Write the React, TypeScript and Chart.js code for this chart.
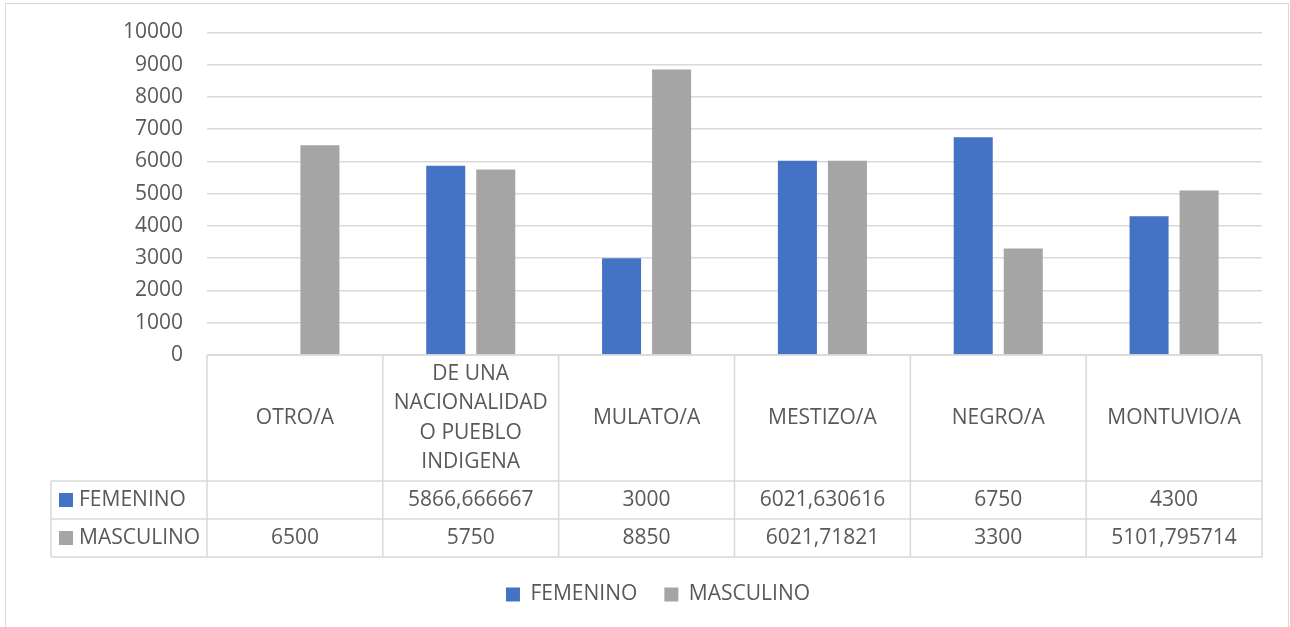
import React, { useEffect, useRef } from "react";
import { Chart, registerables } from "chart.js";

Chart.register(...registerables);

const categories: string[][] = [
  ["OTRO/A"],
  ["DE UNA", "NACIONALIDAD", "O PUEBLO", "INDIGENA"],
  ["MULATO/A"],
  ["MESTIZO/A"],
  ["NEGRO/A"],
  ["MONTUVIO/A"],
];
const seriesNames = ["FEMENINO", "MASCULINO"];
const femenino: (number | null)[] = [null, 5866.666667, 3000, 6021.630616, 6750, 4300];
const masculino: (number | null)[] = [6500, 5750, 8850, 6021.71821, 3300, 5101.795714];
const seriesColors = ["#4472C4", "#A5A5A5"];
const yMin = 0;
const yMax = 10000;
const yStep = 1000;

const FONT = "'Open Sans', 'Noto Sans', sans-serif";
const TEXT = "#595959";
const LINE = "#D9D9D9";
const FS = 21;

const fmt = (v: number | null) => (v == null ? "" : String(v).replace(".", ","));

const tablePlugin = {
  id: "dataTable",
  beforeDraw(chart: any) {
    const ctx = chart.ctx;
    ctx.save();
    ctx.strokeStyle = LINE;
    ctx.lineWidth = 1;
    ctx.strokeRect(5.5, 3.5, 1283, 700);
    ctx.restore();
  },
  afterDraw(chart: any) {
    const { ctx, chartArea } = chart;
    const xs = chart.scales.x;
    const n = chart.data.labels.length;
    const top = chartArea.bottom;
    const headerH = 126;
    const rowH = 38;
    const legendLeft = 51;
    const colW = (chartArea.right - chartArea.left) / n;
    const bottom = top + headerH + rowH * chart.data.datasets.length;
    ctx.save();
    ctx.strokeStyle = LINE;
    ctx.lineWidth = 1.5;
    const line = (x1: number, y1: number, x2: number, y2: number) => {
      ctx.beginPath();
      ctx.moveTo(x1, y1);
      ctx.lineTo(x2, y2);
      ctx.stroke();
    };
    line(chartArea.left, top, chartArea.right, top);
    for (let r = 0; r <= chart.data.datasets.length; r++) {
      const y = top + headerH + r * rowH;
      line(legendLeft, y, chartArea.right, y);
    }
    line(legendLeft, top + headerH, legendLeft, bottom);
    for (let i = 0; i < n; i++) {
      const xl = xs.getPixelForValue(i) - colW / 2;
      line(xl, top, xl, bottom);
    }
    line(xs.getPixelForValue(n - 1) + colW / 2, top, xs.getPixelForValue(n - 1) + colW / 2, bottom);

    ctx.fillStyle = TEXT;
    ctx.font = `${FS}px ${FONT}`;
    ctx.textAlign = "center";
    ctx.textBaseline = "middle";
    const lineH = 29.5;
    chart.data.labels.forEach((lab: string[], i: number) => {
      const cx = xs.getPixelForValue(i);
      const startY = top + headerH / 2 - ((lab.length - 1) * lineH) / 2;
      lab.forEach((t, k) => ctx.fillText(t, cx, startY + k * lineH));
    });
    chart.data.datasets.forEach((ds: any, r: number) => {
      const cy = top + headerH + r * rowH + rowH / 2;
      ctx.fillStyle = ds.backgroundColor;
      ctx.fillRect(59, cy - 7, 14, 14);
      ctx.fillStyle = TEXT;
      ctx.textAlign = "left";
      ctx.fillText(ds.label, 79, cy);
      ctx.textAlign = "center";
      ds.data.forEach((v: number | null, i: number) => {
        ctx.fillText(fmt(v), xs.getPixelForValue(i), cy);
      });
    });
    ctx.restore();
  },
};

export default function App() {
  const ref = useRef<HTMLCanvasElement>(null);
  useEffect(() => {
    if (!ref.current) return;
    const chart = new Chart(ref.current, {
      type: "bar",
      data: {
        labels: categories,
        datasets: [
          { label: seriesNames[0], data: femenino, backgroundColor: seriesColors[0] },
          { label: seriesNames[1], data: masculino, backgroundColor: seriesColors[1] },
        ],
      },
      options: {
        animation: false,
        responsive: false,
        layout: { padding: { top: 20, left: 54, right: 28, bottom: 12 } },
        datasets: { bar: { categoryPercentage: 0.569, barPercentage: 0.78 } },
        plugins: {
          tooltip: { enabled: false },
          legend: {
            position: "bottom",
            labels: {
              boxWidth: 14,
              boxHeight: 14,
              padding: 27,
              color: TEXT,
              font: { family: FONT, size: FS },
            },
          },
        },
        scales: {
          x: {
            grid: { display: false },
            border: { display: false },
            ticks: { display: false },
            afterFit: (s: any) => {
              s.height = 202;
            },
          },
          y: {
            min: yMin,
            max: yMax,
            grid: { color: LINE, lineWidth: 1.5, drawTicks: false },
            border: { display: false },
            ticks: {
              stepSize: yStep,
              padding: 24,
              color: TEXT,
              font: { family: FONT, size: FS, lineHeight: 0.8 },
              callback: (v: any) => String(v),
            },
            afterFit: (s: any) => {
              s.width = 153;
            },
          },
        },
      },
      plugins: [tablePlugin],
    } as any);
    return () => chart.destroy();
  }, []);
  return (
    <div style={{ position: "fixed", left: 0, top: 0, width: 1290, height: 627, background: "#fff" }}>
      <canvas ref={ref} width={1290} height={627} />
    </div>
  );
}
